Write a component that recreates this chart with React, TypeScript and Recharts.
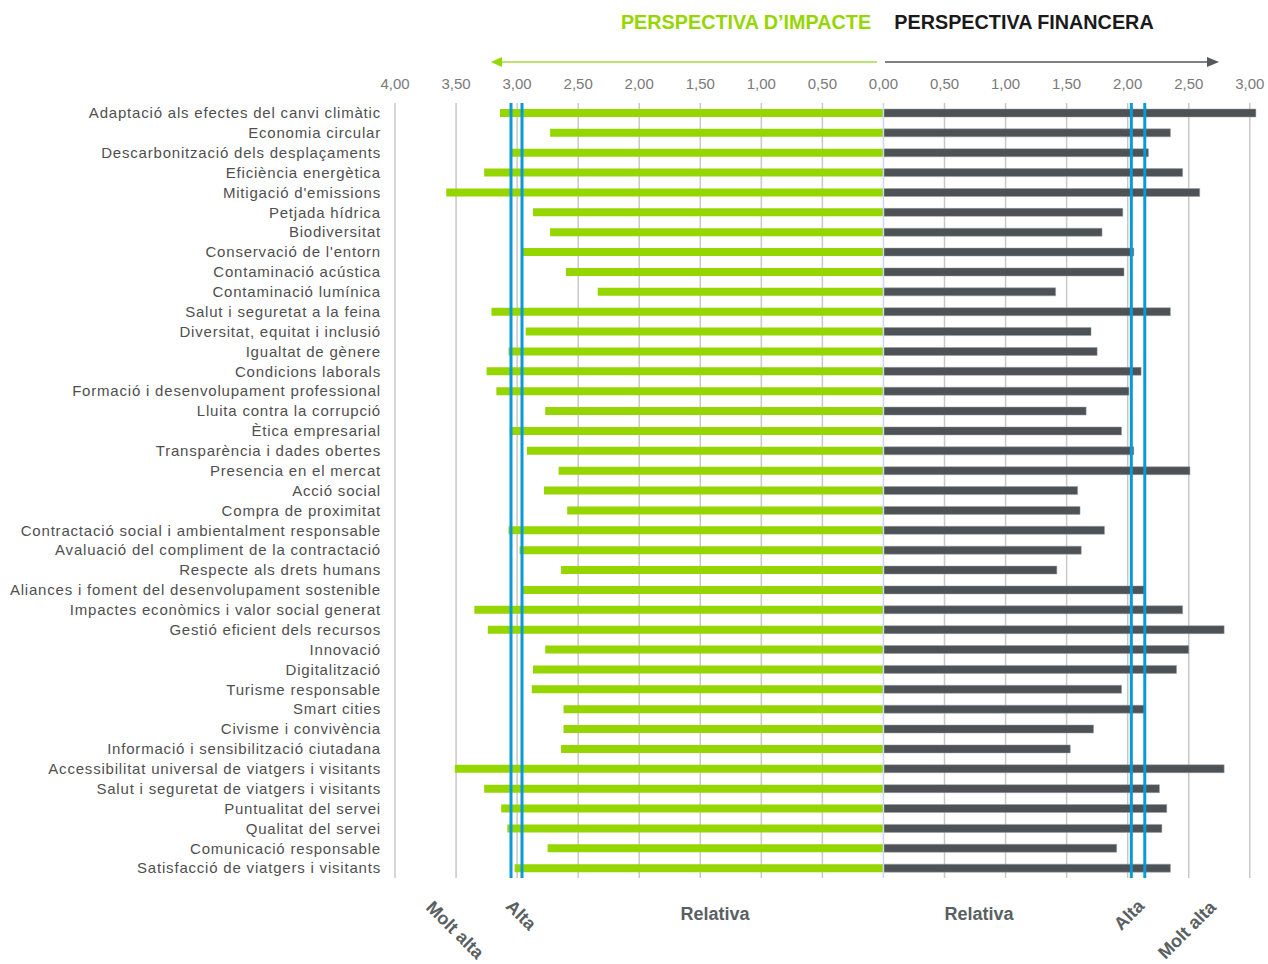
import React from 'react';
import { BarChart, Bar, XAxis, YAxis, ReferenceLine, CartesianGrid } from 'recharts';

const categories = [
  'Adaptació als efectes del canvi climàtic',
  'Economia circular',
  'Descarbonització dels desplaçaments',
  'Eficiència energètica',
  "Mitigació d'emissions",
  'Petjada hídrica',
  'Biodiversitat',
  "Conservació de l'entorn",
  'Contaminació acústica',
  'Contaminació lumínica',
  'Salut i seguretat a la feina',
  'Diversitat, equitat i inclusió',
  'Igualtat de gènere',
  'Condicions laborals',
  'Formació i desenvolupament professional',
  'Lluita contra la corrupció',
  'Ètica empresarial',
  'Transparència i dades obertes',
  'Presencia en el mercat',
  'Acció social',
  'Compra de proximitat',
  'Contractació social i ambientalment responsable',
  'Avaluació del compliment de la contractació',
  'Respecte als drets humans',
  'Aliances i foment del desenvolupament sostenible',
  'Impactes econòmics i valor social generat',
  'Gestió eficient dels recursos',
  'Innovació',
  'Digitalització',
  'Turisme responsable',
  'Smart cities',
  'Civisme i convivència',
  'Informació i sensibilització ciutadana',
  'Accessibilitat universal de viatgers i visitants',
  'Salut i seguretat de viatgers i visitants',
  'Puntualitat del servei',
  'Qualitat del servei',
  'Comunicació responsable',
  'Satisfacció de viatgers i visitants',
];

const impactValues = [
  3.14, 2.73, 3.05, 3.27, 3.58, 2.87, 2.73, 2.96, 2.6, 2.34,
  3.21, 2.93, 3.07, 3.25, 3.17, 2.77, 3.06, 2.92, 2.66, 2.78,
  2.59, 3.07, 2.98, 2.64, 2.96, 3.35, 3.24, 2.77, 2.87, 2.88,
  2.62, 2.62, 2.64, 3.51, 3.27, 3.13, 3.08, 2.75, 3.02,
];

const financialValues = [
  3.05, 2.35, 2.17, 2.45, 2.59, 1.96, 1.79, 2.05, 1.97, 1.41,
  2.35, 1.7, 1.75, 2.11, 2.01, 1.66, 1.95, 2.05, 2.51, 1.59,
  1.61, 1.81, 1.62, 1.42, 2.14, 2.45, 2.79, 2.5, 2.4, 1.95,
  2.14, 1.72, 1.53, 2.79, 2.26, 2.32, 2.28, 1.91, 2.35,
];

const xTicks = [-4, -3.5, -3, -2.5, -2, -1.5, -1, -0.5, 0, 0.5, 1, 1.5, 2, 2.5, 3];
const xDomain = [-4, 3.1];
const impactThresholds = [3.05, 2.96];
const financialThresholds = [2.03, 2.14];

const data = categories.map((name, i) => ({
  name,
  impact: -impactValues[i],
  financial: financialValues[i],
}));

const FONT = '"Liberation Sans", Arial, Helvetica, sans-serif';
const GREEN = '#96d600';
const DARK = '#4d5256';
const BLUE = '#0a9ad6';

const fmt = (v: number) => Math.abs(v).toFixed(2).replace('.', ',');

const gridGen = (props: any) => {
  const scale = props?.xAxis?.scale;
  const gridTicks = xTicks.filter((t) => t !== 0);
  if (typeof scale === 'function') return gridTicks.map((t) => scale(t));
  const off = props?.offset || {};
  const left = off.left ?? 0;
  const w = off.width ?? 0;
  return gridTicks.map((t) => left + ((t - xDomain[0]) / (xDomain[1] - xDomain[0])) * w);
};

export default function App() {
  return (
    <div style={{ position: 'absolute', left: 0, top: 0, width: 1268, height: 964, background: '#fff', fontFamily: FONT }}>
      <BarChart
        width={1268}
        height={964}
        data={data}
        layout="vertical"
        stackOffset="sign"
        margin={{ top: 70, right: 6, bottom: 86, left: 10 }}
        barCategoryGap={0}
      >
        <CartesianGrid
          horizontal={false}
          vertical
          stroke="#c8c8c8"
          strokeWidth={1.5}
          verticalCoordinatesGenerator={gridGen}
        />
        <XAxis
          type="number"
          orientation="top"
          domain={xDomain}
          ticks={xTicks}
          tickFormatter={fmt}
          axisLine={false}
          tickLine={false}
          tickSize={0}
          tickMargin={14}
          height={33}
          interval={0}
          tick={{ fill: '#7a7a7a', fontSize: 15, fontFamily: FONT }}
          allowDataOverflow
        />
        <YAxis
          type="category"
          dataKey="name"
          width={385}
          interval={0}
          axisLine={false}
          tickLine={false}
          tickSize={0}
          tickMargin={14}
          tick={{ fill: '#4f4f4f', fontSize: 15, fontFamily: FONT, letterSpacing: 0.8 }}
        />
        <Bar dataKey="impact" stackId="s" fill={GREEN} barSize={8} isAnimationActive={false} />
        <Bar dataKey="financial" stackId="s" fill={DARK} barSize={8} stroke="#9a9ea2" strokeWidth={0.5} isAnimationActive={false} />
        <ReferenceLine x={0} stroke="#c9d6ec" strokeWidth={1.5} />
        {impactThresholds.map((t) => (
          <ReferenceLine key={'i' + t} x={-t} stroke={BLUE} strokeWidth={3} />
        ))}
        {financialThresholds.map((t) => (
          <ReferenceLine key={'f' + t} x={t} stroke={BLUE} strokeWidth={3} />
        ))}
      </BarChart>
      <svg
        width={1268}
        height={964}
        style={{ position: 'absolute', left: 0, top: 0, pointerEvents: 'none' }}
      >
        <text x={746} y={29} textAnchor="middle" fontSize={19.8} fontWeight="bold" fill={GREEN} fontFamily={FONT}>
          PERSPECTIVA D’IMPACTE
        </text>
        <text x={1024} y={29} textAnchor="middle" fontSize={19.8} fontWeight="bold" fill="#1a1a1a" fontFamily={FONT}>
          PERSPECTIVA FINANCERA
        </text>
        <line x1={500} y1={62} x2={877} y2={62} stroke="#a6dc3c" strokeWidth={1.5} />
        <polygon points="491,62 502,57 502,67" fill={GREEN} />
        <line x1={885} y1={62} x2={1208} y2={62} stroke="#55595d" strokeWidth={1.5} />
        <polygon points="1219,62 1207,57 1207,67" fill="#55595d" />
        <text x={715} y={920} textAnchor="middle" fontSize={18} fontWeight="bold" fill="#5a5f63" fontFamily={FONT}>
          Relativa
        </text>
        <text x={979} y={920} textAnchor="middle" fontSize={18} fontWeight="bold" fill="#5a5f63" fontFamily={FONT}>
          Relativa
        </text>
        <text x={521} y={921} textAnchor="middle" fontSize={18} fontWeight="bold" fill="#5a5f63" fontFamily={FONT} transform="rotate(45 521 915)">
          Alta
        </text>
        <text x={455} y={936} textAnchor="middle" fontSize={18} fontWeight="bold" fill="#5a5f63" fontFamily={FONT} transform="rotate(45 455 930)">
          Molt alta
        </text>
        <text x={1129} y={921} textAnchor="middle" fontSize={18} fontWeight="bold" fill="#5a5f63" fontFamily={FONT} transform="rotate(-45 1129 915)">
          Alta
        </text>
        <text x={1187} y={936} textAnchor="middle" fontSize={18} fontWeight="bold" fill="#5a5f63" fontFamily={FONT} transform="rotate(-45 1187 930)">
          Molt alta
        </text>
      </svg>
    </div>
  );
}
